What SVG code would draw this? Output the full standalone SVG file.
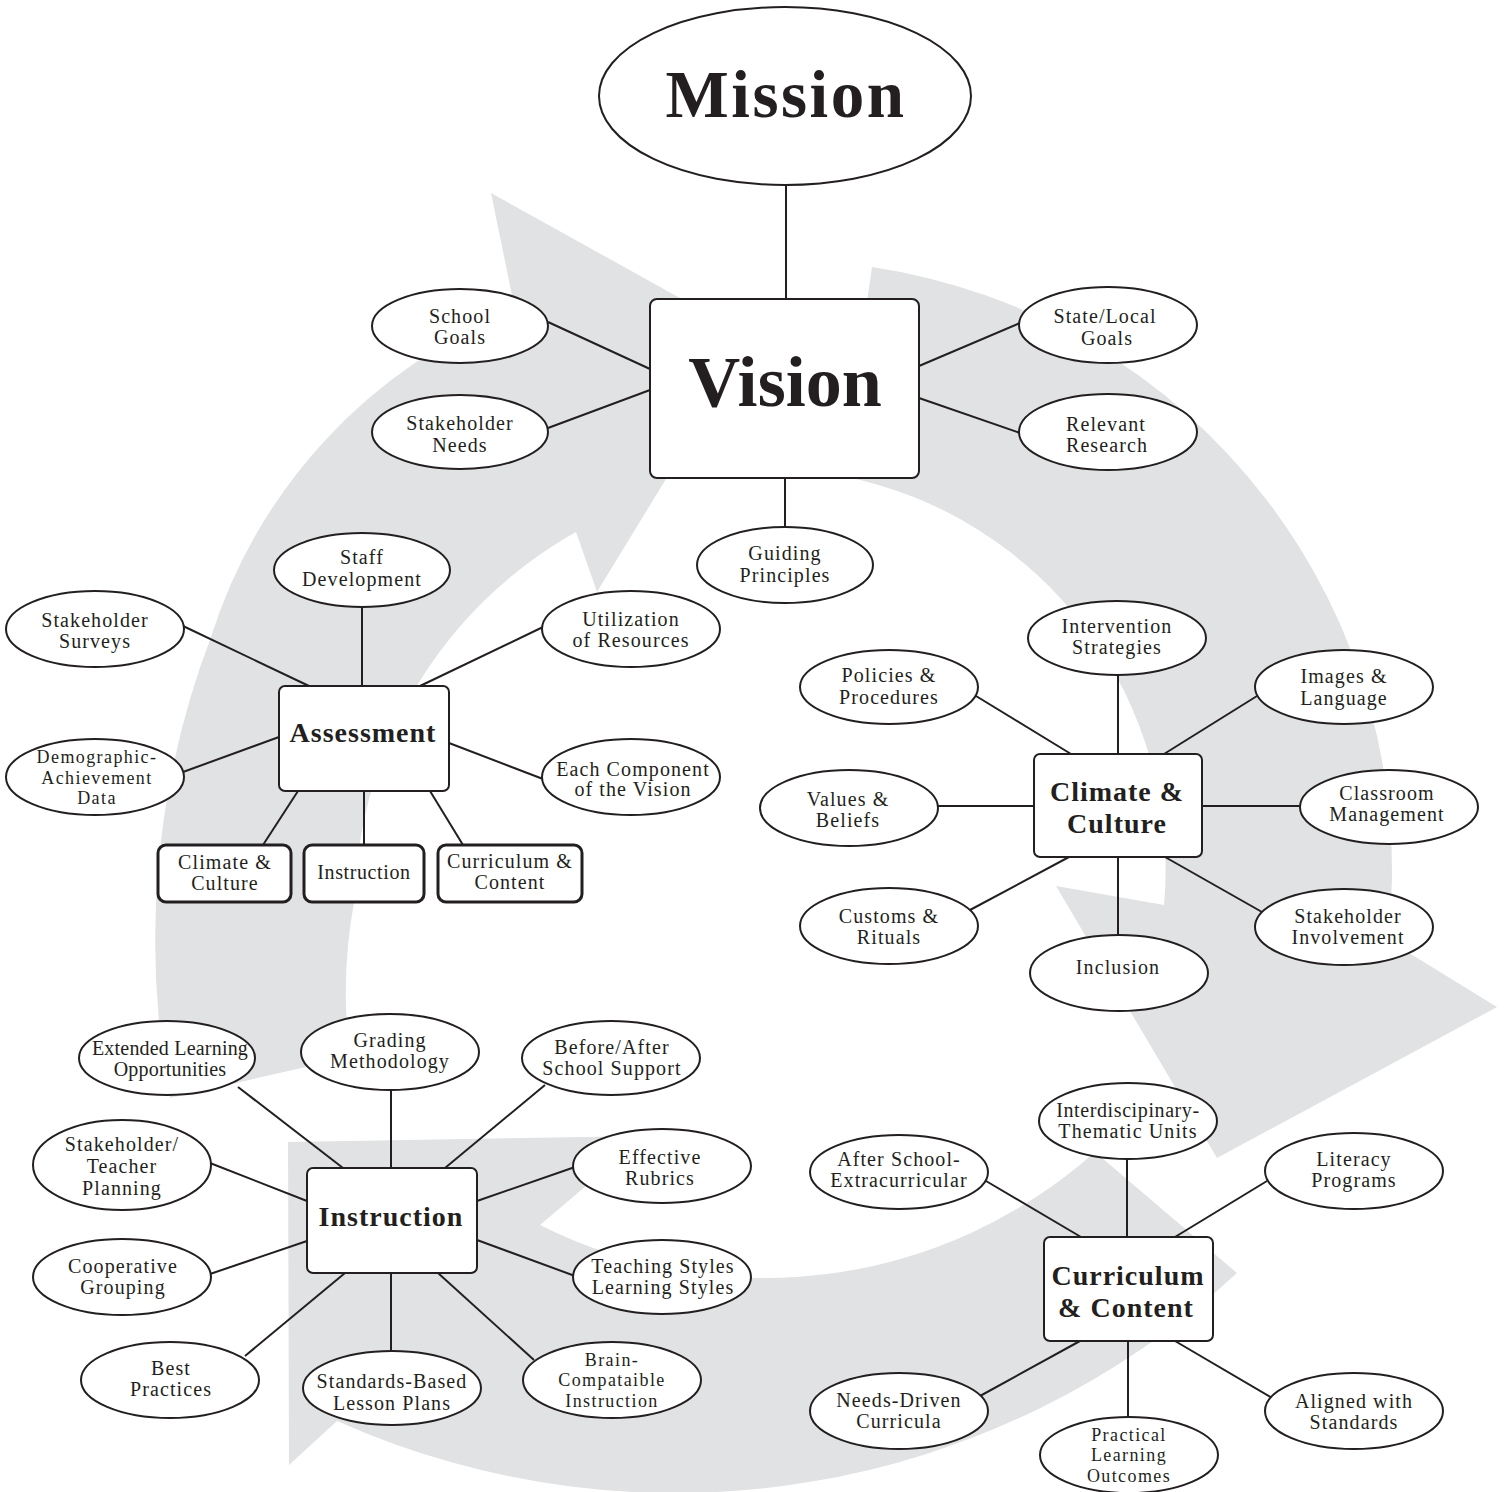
<svg xmlns="http://www.w3.org/2000/svg" width="1505" height="1492" viewBox="0 0 1505 1492">
<style>
.bg{fill:#e1e2e4}
.n ellipse,.n rect{fill:#fff;stroke:#231f20;stroke-width:2}
.n rect.s{stroke-width:3}
.c line{stroke:#231f20;stroke-width:2}
text{font-family:"Liberation Serif","Times New Roman",serif;fill:#231f20;text-anchor:middle}
.t{font-size:20px;letter-spacing:1.1px}
.t3{font-size:18px;letter-spacing:1.4px}
.tn{font-size:20px;letter-spacing:0.2px}
.b{font-size:28px;font-weight:bold;letter-spacing:1px}
</style>
<rect width="1505" height="1492" fill="#fff"/>
<g id="cycle-arrows">
<path class="bg" d="M170 1098 A850 850 0 0 1 211 637 A520 520 0 0 1 515 310 L491 193 L752 338 L597 592 L576 532 A432 432 0 0 0 355 897 A500 500 0 0 0 350 1057 Z"/>
<path class="bg" d="M872 267 A610 610 0 0 1 1388 940 L1497 1007 L1217 1158 L1056 886 L1164 905 A400 400 0 0 0 842 476 Z"/>
<path class="bg" d="M1237 1273 A828 828 0 0 1 337 1421 L289 1465 L288 1142 L645 1136 L540 1225 A498 498 0 0 0 1095 1152 Z"/>
</g>
<g id="connectors" class="c">
<line x1="786" y1="186" x2="786" y2="299"/>
<line x1="548" y1="322" x2="650" y2="369"/>
<line x1="548" y1="428" x2="650" y2="390"/>
<line x1="1020" y1="323" x2="919" y2="366"/>
<line x1="1020" y1="433" x2="919" y2="398"/>
<line x1="785" y1="478" x2="785" y2="527"/>
<line x1="362" y1="607" x2="362" y2="686"/>
<line x1="183" y1="626" x2="309" y2="686"/>
<line x1="543" y1="627" x2="420" y2="686"/>
<line x1="183" y1="772" x2="279" y2="737"/>
<line x1="543" y1="779" x2="449" y2="743"/>
<line x1="298" y1="791" x2="263" y2="845"/>
<line x1="364" y1="791" x2="364" y2="845"/>
<line x1="430" y1="791" x2="463" y2="845"/>
<line x1="1118" y1="675" x2="1118" y2="754"/>
<line x1="976" y1="696" x2="1071" y2="754"/>
<line x1="1257" y1="696" x2="1164" y2="754"/>
<line x1="937" y1="806" x2="1034" y2="806"/>
<line x1="1202" y1="806" x2="1300" y2="806"/>
<line x1="970" y1="910" x2="1069" y2="857"/>
<line x1="1262" y1="912" x2="1165" y2="857"/>
<line x1="1118" y1="857" x2="1118" y2="935"/>
<line x1="238" y1="1087" x2="343" y2="1168"/>
<line x1="391" y1="1090" x2="391" y2="1168"/>
<line x1="545" y1="1085" x2="445" y2="1168"/>
<line x1="210" y1="1163" x2="307" y2="1201"/>
<line x1="575" y1="1167" x2="477" y2="1201"/>
<line x1="210" y1="1274" x2="307" y2="1241"/>
<line x1="575" y1="1276" x2="477" y2="1240"/>
<line x1="245" y1="1356" x2="345" y2="1273"/>
<line x1="391" y1="1273" x2="391" y2="1351"/>
<line x1="534" y1="1360" x2="438" y2="1273"/>
<line x1="1127" y1="1159" x2="1127" y2="1237"/>
<line x1="986" y1="1181" x2="1081" y2="1237"/>
<line x1="1267" y1="1181" x2="1175" y2="1237"/>
<line x1="980" y1="1396" x2="1080" y2="1341"/>
<line x1="1128" y1="1341" x2="1128" y2="1418"/>
<line x1="1272" y1="1398" x2="1175" y2="1341"/>
</g>
<g id="mission" class="n"><ellipse cx="785" cy="96" rx="186" ry="89"/><text x="786" y="117" style="font-size:67px;font-weight:bold;letter-spacing:2.5px">Mission</text></g>
<g id="vision" class="n"><rect x="650" y="299" width="269" height="179" rx="7"/><text x="785" y="406" style="font-size:72px;font-weight:bold">Vision</text></g>
<g id="school-goals" class="n"><ellipse cx="460" cy="326" rx="88" ry="37"/><text class="t" x="460" y="323">School</text><text class="t" x="460" y="344">Goals</text></g>
<g id="stakeholder-needs" class="n"><ellipse cx="460" cy="432" rx="88" ry="37"/><text class="t" x="460" y="430">Stakeholder</text><text class="t" x="460" y="452">Needs</text></g>
<g id="state-local-goals" class="n"><ellipse cx="1108" cy="325" rx="89" ry="38"/><text class="t" x="1105" y="323">State/Local</text><text class="t" x="1107" y="345">Goals</text></g>
<g id="relevant-research" class="n"><ellipse cx="1108" cy="432" rx="89" ry="38"/><text class="t" x="1106" y="431">Relevant</text><text class="t" x="1107" y="452">Research</text></g>
<g id="guiding-principles" class="n"><ellipse cx="785" cy="565" rx="88" ry="38"/><text class="t" x="785" y="560">Guiding</text><text class="t" x="785" y="582">Principles</text></g>

<g id="assessment" class="n"><rect x="279" y="686" width="170" height="105" rx="6"/><text class="b" x="363" y="742">Assessment</text></g>
<g id="staff-development" class="n"><ellipse cx="362" cy="570" rx="88" ry="37"/><text class="t" x="362" y="564">Staff</text><text class="t" x="362" y="586">Development</text></g>
<g id="stakeholder-surveys" class="n"><ellipse cx="95" cy="629" rx="89" ry="38"/><text class="t" x="95" y="627">Stakeholder</text><text class="t" x="95" y="648">Surveys</text></g>
<g id="utilization-of-resources" class="n"><ellipse cx="631" cy="629" rx="89" ry="38"/><text class="t" x="631" y="626">Utilization</text><text class="t" x="631" y="647">of Resources</text></g>
<g id="demographic-achievement-data" class="n"><ellipse cx="95" cy="777" rx="89" ry="38"/><text class="t3" x="97" y="763">Demographic-</text><text class="t3" x="97" y="783.5">Achievement</text><text class="t3" x="97" y="804">Data</text></g>
<g id="each-component" class="n"><ellipse cx="631" cy="777" rx="89" ry="38"/><text class="t" x="633" y="776">Each Component</text><text class="t" x="633" y="796">of the Vision</text></g>
<g id="a-climate-culture" class="n"><rect class="s" x="158" y="845" width="133" height="57" rx="8"/><text class="t" x="225" y="869">Climate &amp;</text><text class="t" x="225" y="890">Culture</text></g>
<g id="a-instruction" class="n"><rect class="s" x="304" y="845" width="120" height="57" rx="8"/><text class="t" x="364" y="879" style="letter-spacing:0.6px">Instruction</text></g>
<g id="a-curriculum-content" class="n"><rect class="s" x="438" y="845" width="144" height="57" rx="8"/><text class="t" x="510" y="868">Curriculum &amp;</text><text class="t" x="510" y="889">Content</text></g>

<g id="climate-culture" class="n"><rect x="1034" y="754" width="168" height="103" rx="6"/><text class="b" x="1117" y="801">Climate &amp;</text><text class="b" x="1117" y="833">Culture</text></g>
<g id="intervention-strategies" class="n"><ellipse cx="1117" cy="638" rx="89" ry="37"/><text class="t" x="1117" y="633">Intervention</text><text class="t" x="1117" y="654">Strategies</text></g>
<g id="policies-procedures" class="n"><ellipse cx="889" cy="687" rx="89" ry="37"/><text class="t" x="889" y="682">Policies &amp;</text><text class="t" x="889" y="704">Procedures</text></g>
<g id="images-language" class="n"><ellipse cx="1344" cy="687" rx="89" ry="37"/><text class="t" x="1344" y="683">Images &amp;</text><text class="t" x="1344" y="705">Language</text></g>
<g id="values-beliefs" class="n"><ellipse cx="849" cy="808" rx="89" ry="38"/><text class="t" x="848" y="806">Values &amp;</text><text class="t" x="848" y="827">Beliefs</text></g>
<g id="classroom-management" class="n"><ellipse cx="1389" cy="807" rx="89" ry="37"/><text class="t" x="1387" y="800">Classroom</text><text class="t" x="1387" y="821">Management</text></g>
<g id="customs-rituals" class="n"><ellipse cx="889" cy="926" rx="89" ry="38"/><text class="t" x="889" y="923">Customs &amp;</text><text class="t" x="889" y="944">Rituals</text></g>
<g id="stakeholder-involvement" class="n"><ellipse cx="1344" cy="927" rx="89" ry="38"/><text class="t" x="1348" y="923">Stakeholder</text><text class="t" x="1348" y="944">Involvement</text></g>
<g id="inclusion" class="n"><ellipse cx="1119" cy="973" rx="89" ry="38"/><text class="t" x="1118" y="974">Inclusion</text></g>

<g id="instruction" class="n"><rect x="307" y="1168" width="170" height="105" rx="6"/><text class="b" x="391" y="1226">Instruction</text></g>
<g id="extended-learning" class="n"><ellipse cx="167" cy="1058" rx="88" ry="37"/><text class="tn" x="170" y="1055">Extended Learning</text><text class="tn" x="170" y="1076">Opportunities</text></g>
<g id="grading-methodology" class="n"><ellipse cx="390" cy="1052" rx="89" ry="38"/><text class="t" x="390" y="1047">Grading</text><text class="t" x="390" y="1068">Methodology</text></g>
<g id="before-after-school" class="n"><ellipse cx="611" cy="1058" rx="89" ry="37"/><text class="t" x="612" y="1054">Before/After</text><text class="t" x="612" y="1075">School Support</text></g>
<g id="stakeholder-teacher-planning" class="n"><ellipse cx="122" cy="1165" rx="89" ry="45"/><text class="t" x="122" y="1151">Stakeholder/</text><text class="t" x="122" y="1173">Teacher</text><text class="t" x="122" y="1195">Planning</text></g>
<g id="effective-rubrics" class="n"><ellipse cx="662" cy="1166" rx="89" ry="37"/><text class="t" x="660" y="1164">Effective</text><text class="t" x="660" y="1185">Rubrics</text></g>
<g id="cooperative-grouping" class="n"><ellipse cx="122" cy="1277" rx="89" ry="38"/><text class="t" x="123" y="1273">Cooperative</text><text class="t" x="123" y="1294">Grouping</text></g>
<g id="teaching-learning-styles" class="n"><ellipse cx="662" cy="1277" rx="89" ry="37"/><text class="t" x="663" y="1273">Teaching Styles</text><text class="t" x="663" y="1294">Learning Styles</text></g>
<g id="best-practices" class="n"><ellipse cx="170" cy="1380" rx="89" ry="38"/><text class="t" x="171" y="1375">Best</text><text class="t" x="171" y="1396">Practices</text></g>
<g id="standards-based" class="n"><ellipse cx="392" cy="1388" rx="89" ry="37"/><text class="t" x="392" y="1388">Standards-Based</text><text class="t" x="392" y="1410">Lesson Plans</text></g>
<g id="brain-compatible" class="n"><ellipse cx="612" cy="1380" rx="89" ry="38"/><text class="t3" x="612" y="1365.5">Brain-</text><text class="t3" x="612" y="1386">Compataible</text><text class="t3" x="612" y="1406.5">Instruction</text></g>

<g id="curriculum-content" class="n"><rect x="1044" y="1237" width="169" height="104" rx="6"/><text class="b" x="1128" y="1285">Curriculum</text><text class="b" x="1126" y="1317">&amp; Content</text></g>
<g id="interdisciplinary" class="n"><ellipse cx="1128" cy="1121" rx="89" ry="38"/><text class="t" x="1128" y="1117" style="letter-spacing:0.6px">Interdiscipinary-</text><text class="t" x="1128" y="1138">Thematic Units</text></g>
<g id="after-school" class="n"><ellipse cx="899" cy="1172" rx="89" ry="37"/><text class="t" x="899" y="1166">After School-</text><text class="t" x="899" y="1187">Extracurricular</text></g>
<g id="literacy-programs" class="n"><ellipse cx="1354" cy="1171" rx="89" ry="38"/><text class="t" x="1354" y="1166">Literacy</text><text class="t" x="1354" y="1187">Programs</text></g>
<g id="needs-driven" class="n"><ellipse cx="899" cy="1411" rx="89" ry="38"/><text class="t" x="899" y="1407">Needs-Driven</text><text class="t" x="899" y="1428">Curricula</text></g>
<g id="practical-learning" class="n"><ellipse cx="1129" cy="1455" rx="89" ry="38"/><text class="t3" x="1129" y="1440.5">Practical</text><text class="t3" x="1129" y="1461">Learning</text><text class="t3" x="1129" y="1481.5">Outcomes</text></g>
<g id="aligned-standards" class="n"><ellipse cx="1354" cy="1411" rx="89" ry="38"/><text class="t" x="1354" y="1408">Aligned with</text><text class="t" x="1354" y="1429">Standards</text></g>
</svg>
